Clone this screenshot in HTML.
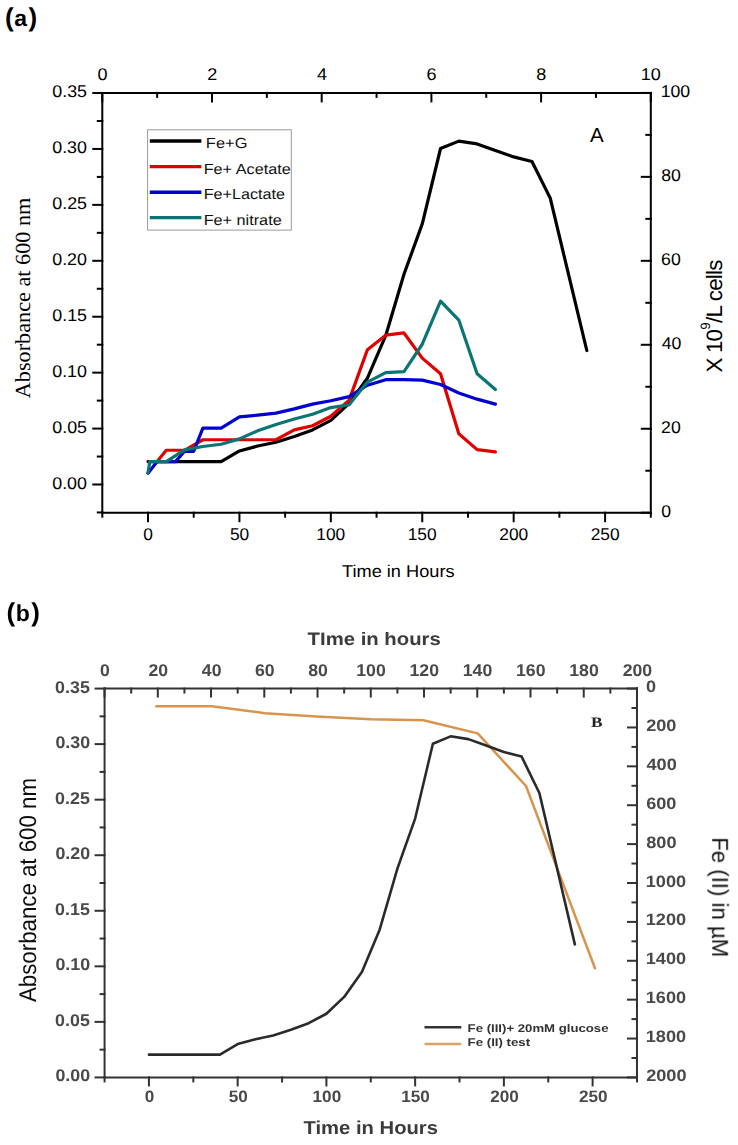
<!DOCTYPE html>
<html><head><meta charset="utf-8"><style>
html,body{margin:0;padding:0;background:#fff;}
body{width:738px;height:1145px;overflow:hidden;font-family:'Liberation Sans',sans-serif;}
svg{display:block;}
</style></head><body>
<svg width="738" height="1145" viewBox="0 0 738 1145" text-rendering="geometricPrecision">
<defs><filter id="blurB" x="0" y="580" width="738" height="565" filterUnits="userSpaceOnUse"><feGaussianBlur stdDeviation="0.65"/></filter></defs>
<rect width="738" height="1145" fill="#fff"/>
<g stroke-linecap="square">
<line x1="102.3" y1="92.9" x2="650.8" y2="92.9" stroke="#000" stroke-width="2"/>
<line x1="102.3" y1="512.7" x2="650.8" y2="512.7" stroke="#000" stroke-width="2"/>
<line x1="102.3" y1="92.9" x2="102.3" y2="512.7" stroke="#000" stroke-width="2"/>
<line x1="650.8" y1="92.9" x2="650.8" y2="512.7" stroke="#000" stroke-width="2"/>
<line x1="93.3" y1="93.03" x2="102.3" y2="93.03" stroke="#000" stroke-width="2"/>
<line x1="97.8" y1="120.99" x2="102.3" y2="120.99" stroke="#000" stroke-width="2"/>
<line x1="93.3" y1="148.95" x2="102.3" y2="148.95" stroke="#000" stroke-width="2"/>
<line x1="97.8" y1="176.91" x2="102.3" y2="176.91" stroke="#000" stroke-width="2"/>
<line x1="93.3" y1="204.88" x2="102.3" y2="204.88" stroke="#000" stroke-width="2"/>
<line x1="97.8" y1="232.84" x2="102.3" y2="232.84" stroke="#000" stroke-width="2"/>
<line x1="93.3" y1="260.8" x2="102.3" y2="260.8" stroke="#000" stroke-width="2"/>
<line x1="97.8" y1="288.76" x2="102.3" y2="288.76" stroke="#000" stroke-width="2"/>
<line x1="93.3" y1="316.73" x2="102.3" y2="316.73" stroke="#000" stroke-width="2"/>
<line x1="97.8" y1="344.69" x2="102.3" y2="344.69" stroke="#000" stroke-width="2"/>
<line x1="93.3" y1="372.65" x2="102.3" y2="372.65" stroke="#000" stroke-width="2"/>
<line x1="97.8" y1="400.61" x2="102.3" y2="400.61" stroke="#000" stroke-width="2"/>
<line x1="93.3" y1="428.58" x2="102.3" y2="428.58" stroke="#000" stroke-width="2"/>
<line x1="97.8" y1="456.54" x2="102.3" y2="456.54" stroke="#000" stroke-width="2"/>
<line x1="93.3" y1="484.5" x2="102.3" y2="484.5" stroke="#000" stroke-width="2"/>
<line x1="97.8" y1="512.46" x2="102.3" y2="512.46" stroke="#000" stroke-width="2"/>
<line x1="641.8" y1="512.7" x2="650.8" y2="512.7" stroke="#000" stroke-width="2"/>
<line x1="646.3" y1="470.72" x2="650.8" y2="470.72" stroke="#000" stroke-width="2"/>
<line x1="641.8" y1="428.74" x2="650.8" y2="428.74" stroke="#000" stroke-width="2"/>
<line x1="646.3" y1="386.76" x2="650.8" y2="386.76" stroke="#000" stroke-width="2"/>
<line x1="641.8" y1="344.78" x2="650.8" y2="344.78" stroke="#000" stroke-width="2"/>
<line x1="646.3" y1="302.8" x2="650.8" y2="302.8" stroke="#000" stroke-width="2"/>
<line x1="641.8" y1="260.82" x2="650.8" y2="260.82" stroke="#000" stroke-width="2"/>
<line x1="646.3" y1="218.84" x2="650.8" y2="218.84" stroke="#000" stroke-width="2"/>
<line x1="641.8" y1="176.86" x2="650.8" y2="176.86" stroke="#000" stroke-width="2"/>
<line x1="646.3" y1="134.88" x2="650.8" y2="134.88" stroke="#000" stroke-width="2"/>
<line x1="641.8" y1="92.9" x2="650.8" y2="92.9" stroke="#000" stroke-width="2"/>
<line x1="102.3" y1="92.9" x2="102.3" y2="101.4" stroke="#000" stroke-width="2"/>
<line x1="157.15" y1="92.9" x2="157.15" y2="96.9" stroke="#000" stroke-width="2"/>
<line x1="212" y1="92.9" x2="212" y2="101.4" stroke="#000" stroke-width="2"/>
<line x1="266.85" y1="92.9" x2="266.85" y2="96.9" stroke="#000" stroke-width="2"/>
<line x1="321.7" y1="92.9" x2="321.7" y2="101.4" stroke="#000" stroke-width="2"/>
<line x1="376.55" y1="92.9" x2="376.55" y2="96.9" stroke="#000" stroke-width="2"/>
<line x1="431.4" y1="92.9" x2="431.4" y2="101.4" stroke="#000" stroke-width="2"/>
<line x1="486.25" y1="92.9" x2="486.25" y2="96.9" stroke="#000" stroke-width="2"/>
<line x1="541.1" y1="92.9" x2="541.1" y2="101.4" stroke="#000" stroke-width="2"/>
<line x1="595.95" y1="92.9" x2="595.95" y2="96.9" stroke="#000" stroke-width="2"/>
<line x1="650.8" y1="92.9" x2="650.8" y2="101.4" stroke="#000" stroke-width="2"/>
<line x1="102.3" y1="512.7" x2="102.3" y2="516.7" stroke="#000" stroke-width="2"/>
<line x1="148.01" y1="512.7" x2="148.01" y2="521.2" stroke="#000" stroke-width="2"/>
<line x1="193.72" y1="512.7" x2="193.72" y2="516.7" stroke="#000" stroke-width="2"/>
<line x1="239.43" y1="512.7" x2="239.43" y2="521.2" stroke="#000" stroke-width="2"/>
<line x1="285.13" y1="512.7" x2="285.13" y2="516.7" stroke="#000" stroke-width="2"/>
<line x1="330.84" y1="512.7" x2="330.84" y2="521.2" stroke="#000" stroke-width="2"/>
<line x1="376.55" y1="512.7" x2="376.55" y2="516.7" stroke="#000" stroke-width="2"/>
<line x1="422.26" y1="512.7" x2="422.26" y2="521.2" stroke="#000" stroke-width="2"/>
<line x1="467.97" y1="512.7" x2="467.97" y2="516.7" stroke="#000" stroke-width="2"/>
<line x1="513.67" y1="512.7" x2="513.67" y2="521.2" stroke="#000" stroke-width="2"/>
<line x1="559.38" y1="512.7" x2="559.38" y2="516.7" stroke="#000" stroke-width="2"/>
<line x1="605.09" y1="512.7" x2="605.09" y2="521.2" stroke="#000" stroke-width="2"/>
<line x1="650.8" y1="512.7" x2="650.8" y2="516.7" stroke="#000" stroke-width="2"/>
</g>
<text x="52.3" y="97.03" font-size="17" text-anchor="start" font-weight="normal" fill="#000" style="font-family:'Liberation Sans',sans-serif" textLength="34.74" lengthAdjust="spacingAndGlyphs">0.35</text>
<text x="52.21" y="152.95" font-size="17" text-anchor="start" font-weight="normal" fill="#000" style="font-family:'Liberation Sans',sans-serif" textLength="34.74" lengthAdjust="spacingAndGlyphs">0.30</text>
<text x="52.3" y="208.88" font-size="17" text-anchor="start" font-weight="normal" fill="#000" style="font-family:'Liberation Sans',sans-serif" textLength="34.74" lengthAdjust="spacingAndGlyphs">0.25</text>
<text x="52.21" y="264.8" font-size="17" text-anchor="start" font-weight="normal" fill="#000" style="font-family:'Liberation Sans',sans-serif" textLength="34.74" lengthAdjust="spacingAndGlyphs">0.20</text>
<text x="52.3" y="320.73" font-size="17" text-anchor="start" font-weight="normal" fill="#000" style="font-family:'Liberation Sans',sans-serif" textLength="34.74" lengthAdjust="spacingAndGlyphs">0.15</text>
<text x="52.21" y="376.65" font-size="17" text-anchor="start" font-weight="normal" fill="#000" style="font-family:'Liberation Sans',sans-serif" textLength="34.74" lengthAdjust="spacingAndGlyphs">0.10</text>
<text x="52.3" y="432.57" font-size="17" text-anchor="start" font-weight="normal" fill="#000" style="font-family:'Liberation Sans',sans-serif" textLength="34.74" lengthAdjust="spacingAndGlyphs">0.05</text>
<text x="52.21" y="488.5" font-size="17" text-anchor="start" font-weight="normal" fill="#000" style="font-family:'Liberation Sans',sans-serif" textLength="34.74" lengthAdjust="spacingAndGlyphs">0.00</text>
<text x="661.29" y="516.5" font-size="17" text-anchor="start" font-weight="normal" fill="#000" style="font-family:'Liberation Sans',sans-serif" textLength="9.83" lengthAdjust="spacingAndGlyphs">0</text>
<text x="661.12" y="432.54" font-size="17" text-anchor="start" font-weight="normal" fill="#000" style="font-family:'Liberation Sans',sans-serif" textLength="19.67" lengthAdjust="spacingAndGlyphs">20</text>
<text x="661.65" y="348.58" font-size="17" text-anchor="start" font-weight="normal" fill="#000" style="font-family:'Liberation Sans',sans-serif" textLength="19.67" lengthAdjust="spacingAndGlyphs">40</text>
<text x="661.12" y="264.62" font-size="17" text-anchor="start" font-weight="normal" fill="#000" style="font-family:'Liberation Sans',sans-serif" textLength="19.67" lengthAdjust="spacingAndGlyphs">60</text>
<text x="661.2" y="180.66" font-size="17" text-anchor="start" font-weight="normal" fill="#000" style="font-family:'Liberation Sans',sans-serif" textLength="19.67" lengthAdjust="spacingAndGlyphs">80</text>
<text x="660.67" y="96.7" font-size="17" text-anchor="start" font-weight="normal" fill="#000" style="font-family:'Liberation Sans',sans-serif" textLength="29.5" lengthAdjust="spacingAndGlyphs">100</text>
<text x="97.55" y="80" font-size="17" text-anchor="start" font-weight="normal" fill="#000" style="font-family:'Liberation Sans',sans-serif" textLength="10.02" lengthAdjust="spacingAndGlyphs">0</text>
<text x="207.3" y="80" font-size="17" text-anchor="start" font-weight="normal" fill="#000" style="font-family:'Liberation Sans',sans-serif" textLength="10.02" lengthAdjust="spacingAndGlyphs">2</text>
<text x="317.09" y="80" font-size="17" text-anchor="start" font-weight="normal" fill="#000" style="font-family:'Liberation Sans',sans-serif" textLength="10.02" lengthAdjust="spacingAndGlyphs">4</text>
<text x="426.61" y="80" font-size="17" text-anchor="start" font-weight="normal" fill="#000" style="font-family:'Liberation Sans',sans-serif" textLength="10.02" lengthAdjust="spacingAndGlyphs">6</text>
<text x="536.35" y="80" font-size="17" text-anchor="start" font-weight="normal" fill="#000" style="font-family:'Liberation Sans',sans-serif" textLength="10.02" lengthAdjust="spacingAndGlyphs">8</text>
<text x="640.74" y="80" font-size="17" text-anchor="start" font-weight="normal" fill="#000" style="font-family:'Liberation Sans',sans-serif" textLength="20.04" lengthAdjust="spacingAndGlyphs">10</text>
<text x="143.35" y="539.7" font-size="17" text-anchor="start" font-weight="normal" fill="#000" style="font-family:'Liberation Sans',sans-serif" textLength="9.64" lengthAdjust="spacingAndGlyphs">0</text>
<text x="229.96" y="539.7" font-size="17" text-anchor="start" font-weight="normal" fill="#000" style="font-family:'Liberation Sans',sans-serif" textLength="19.29" lengthAdjust="spacingAndGlyphs">50</text>
<text x="316.26" y="539.7" font-size="17" text-anchor="start" font-weight="normal" fill="#000" style="font-family:'Liberation Sans',sans-serif" textLength="28.93" lengthAdjust="spacingAndGlyphs">100</text>
<text x="407.68" y="539.7" font-size="17" text-anchor="start" font-weight="normal" fill="#000" style="font-family:'Liberation Sans',sans-serif" textLength="28.93" lengthAdjust="spacingAndGlyphs">150</text>
<text x="499.31" y="539.7" font-size="17" text-anchor="start" font-weight="normal" fill="#000" style="font-family:'Liberation Sans',sans-serif" textLength="28.93" lengthAdjust="spacingAndGlyphs">200</text>
<text x="590.73" y="539.7" font-size="17" text-anchor="start" font-weight="normal" fill="#000" style="font-family:'Liberation Sans',sans-serif" textLength="28.93" lengthAdjust="spacingAndGlyphs">250</text>
<text x="5" y="26" font-size="26" font-weight="bold" fill="#000" style="font-family:'Liberation Sans',sans-serif">(<tspan font-size="23" dx="0.5">a</tspan><tspan dx="1.5">)</tspan></text>
<text x="590" y="142.2" font-size="20.5" text-anchor="start" font-weight="normal" fill="#000" style="font-family:'Liberation Sans',sans-serif">A</text>
<text x="342" y="577" font-size="17" text-anchor="start" font-weight="normal" fill="#000" style="font-family:'Liberation Sans',sans-serif" textLength="112.6" lengthAdjust="spacingAndGlyphs">Time in Hours</text>
<text transform="translate(30,398.2) rotate(-90)" font-size="21.5" fill="#000" style="font-family:'Liberation Serif',serif" textLength="200.5" lengthAdjust="spacingAndGlyphs">Absorbance at 600 nm</text>
<text transform="translate(722,372.6) rotate(-90)" font-size="22.3" fill="#000" style="font-family:'Liberation Sans',sans-serif" textLength="113" lengthAdjust="spacing">X 10<tspan font-size="13.5" dy="-12.3">9</tspan><tspan dy="12.3">/L cells</tspan></text>
<polyline points="148.01,461.57 166.29,461.57 184.57,461.57 202.86,461.57 221.14,461.57 239.43,450.94 257.71,446.02 275.99,442.22 294.27,436.52 312.56,429.92 330.84,420.41 349.12,403.41 367.41,378.24 385.69,335.74 403.98,274.22 422.26,223.89 440.54,148.5 458.82,141.12 477.11,143.92 495.39,150.4 513.67,156.89 531.96,161.48 550.24,198.16 586.81,350.5" fill="none" stroke="#000" stroke-width="3.2" stroke-linejoin="round" stroke-linecap="round"/>
<polyline points="157.15,461.57 166.29,450.27 184.57,450.27 202.86,439.76 221.14,439.76 239.43,439.76 257.71,439.76 275.99,439.76 294.27,429.92 312.56,425.78 330.84,416.27 349.12,400.17 367.41,349.72 385.69,335.18 403.98,332.94 422.26,358.11 440.54,373.77 458.82,433.83 477.11,449.6 495.39,451.95" fill="none" stroke="#e00000" stroke-width="3.2" stroke-linejoin="round" stroke-linecap="round"/>
<polyline points="148.01,473.2 157.15,461.57 175.43,461.57 184.57,451.28 193.72,451.28 202.86,428.13 221.14,428.13 239.43,416.94 257.71,415.15 275.99,413.14 294.27,408.89 312.56,404.08 330.84,400.72 349.12,396.59 367.41,385.18 385.69,379.7 403.98,379.7 422.26,380.14 440.54,384.51 458.82,393.01 477.11,399.16 495.39,404.08" fill="none" stroke="#0000d0" stroke-width="3.2" stroke-linejoin="round" stroke-linecap="round"/>
<polyline points="148.01,472.76 149.84,461.57 166.29,461.57 184.57,449.83 202.86,446.47 221.14,444.23 239.43,438.87 257.71,430.81 275.99,424.44 294.27,418.96 312.56,414.26 330.84,407.55 349.12,404.75 367.41,382.05 385.69,372.65 403.98,371.53 422.26,344.24 440.54,301.07 458.82,320.08 477.11,373.77 495.39,389.43" fill="none" stroke="#0b7575" stroke-width="3.2" stroke-linejoin="round" stroke-linecap="round"/>
<rect x="147.6" y="129.8" width="143.7" height="100.3" fill="#fff" stroke="#999" stroke-width="1"/>
<line x1="149.8" y1="141" x2="201.4" y2="141" stroke="#000" stroke-width="3.4"/>
<text x="205.89" y="148.1" font-size="14.6" text-anchor="start" font-weight="normal" fill="#111" style="font-family:'Liberation Sans',sans-serif" textLength="41.53" lengthAdjust="spacingAndGlyphs">Fe+G</text>
<line x1="149.8" y1="166.6" x2="201.4" y2="166.6" stroke="#e00000" stroke-width="3.4"/>
<text x="203.7" y="173.5" font-size="14.6" text-anchor="start" font-weight="normal" fill="#111" style="font-family:'Liberation Sans',sans-serif" textLength="87.03" lengthAdjust="spacingAndGlyphs">Fe+ Acetate</text>
<line x1="149.8" y1="192.2" x2="201.4" y2="192.2" stroke="#0000d0" stroke-width="3.4"/>
<text x="203.71" y="199" font-size="14.6" text-anchor="start" font-weight="normal" fill="#111" style="font-family:'Liberation Sans',sans-serif" textLength="81.24" lengthAdjust="spacingAndGlyphs">Fe+Lactate</text>
<line x1="149.8" y1="217.6" x2="201.4" y2="217.6" stroke="#0b7575" stroke-width="3.4"/>
<text x="203.7" y="224.5" font-size="14.6" text-anchor="start" font-weight="normal" fill="#111" style="font-family:'Liberation Sans',sans-serif" textLength="77.98" lengthAdjust="spacingAndGlyphs">Fe+ nitrate</text>
<g filter="url(#blurB)">
<g stroke-linecap="square">
<line x1="104.57" y1="688.57" x2="636.98" y2="688.57" stroke="#333" stroke-width="2"/>
<line x1="104.57" y1="1077.43" x2="636.98" y2="1077.43" stroke="#333" stroke-width="2"/>
<line x1="104.57" y1="688.57" x2="104.57" y2="1077.43" stroke="#333" stroke-width="2"/>
<line x1="636.98" y1="688.57" x2="636.98" y2="1077.43" stroke="#333" stroke-width="2"/>
<line x1="95.57" y1="688.57" x2="104.57" y2="688.57" stroke="#333" stroke-width="2"/>
<line x1="100.57" y1="716.35" x2="104.57" y2="716.35" stroke="#333" stroke-width="2"/>
<line x1="95.57" y1="744.12" x2="104.57" y2="744.12" stroke="#333" stroke-width="2"/>
<line x1="100.57" y1="771.9" x2="104.57" y2="771.9" stroke="#333" stroke-width="2"/>
<line x1="95.57" y1="799.67" x2="104.57" y2="799.67" stroke="#333" stroke-width="2"/>
<line x1="100.57" y1="827.45" x2="104.57" y2="827.45" stroke="#333" stroke-width="2"/>
<line x1="95.57" y1="855.22" x2="104.57" y2="855.22" stroke="#333" stroke-width="2"/>
<line x1="100.57" y1="883" x2="104.57" y2="883" stroke="#333" stroke-width="2"/>
<line x1="95.57" y1="910.78" x2="104.57" y2="910.78" stroke="#333" stroke-width="2"/>
<line x1="100.57" y1="938.55" x2="104.57" y2="938.55" stroke="#333" stroke-width="2"/>
<line x1="95.57" y1="966.33" x2="104.57" y2="966.33" stroke="#333" stroke-width="2"/>
<line x1="100.57" y1="994.1" x2="104.57" y2="994.1" stroke="#333" stroke-width="2"/>
<line x1="95.57" y1="1021.88" x2="104.57" y2="1021.88" stroke="#333" stroke-width="2"/>
<line x1="100.57" y1="1049.65" x2="104.57" y2="1049.65" stroke="#333" stroke-width="2"/>
<line x1="95.57" y1="1077.43" x2="104.57" y2="1077.43" stroke="#333" stroke-width="2"/>
<line x1="627.98" y1="688.57" x2="636.98" y2="688.57" stroke="#333" stroke-width="2"/>
<line x1="632.48" y1="708.01" x2="636.98" y2="708.01" stroke="#333" stroke-width="2"/>
<line x1="627.98" y1="727.46" x2="636.98" y2="727.46" stroke="#333" stroke-width="2"/>
<line x1="632.48" y1="746.9" x2="636.98" y2="746.9" stroke="#333" stroke-width="2"/>
<line x1="627.98" y1="766.34" x2="636.98" y2="766.34" stroke="#333" stroke-width="2"/>
<line x1="632.48" y1="785.79" x2="636.98" y2="785.79" stroke="#333" stroke-width="2"/>
<line x1="627.98" y1="805.23" x2="636.98" y2="805.23" stroke="#333" stroke-width="2"/>
<line x1="632.48" y1="824.67" x2="636.98" y2="824.67" stroke="#333" stroke-width="2"/>
<line x1="627.98" y1="844.11" x2="636.98" y2="844.11" stroke="#333" stroke-width="2"/>
<line x1="632.48" y1="863.56" x2="636.98" y2="863.56" stroke="#333" stroke-width="2"/>
<line x1="627.98" y1="883" x2="636.98" y2="883" stroke="#333" stroke-width="2"/>
<line x1="632.48" y1="902.44" x2="636.98" y2="902.44" stroke="#333" stroke-width="2"/>
<line x1="627.98" y1="921.89" x2="636.98" y2="921.89" stroke="#333" stroke-width="2"/>
<line x1="632.48" y1="941.33" x2="636.98" y2="941.33" stroke="#333" stroke-width="2"/>
<line x1="627.98" y1="960.77" x2="636.98" y2="960.77" stroke="#333" stroke-width="2"/>
<line x1="632.48" y1="980.22" x2="636.98" y2="980.22" stroke="#333" stroke-width="2"/>
<line x1="627.98" y1="999.66" x2="636.98" y2="999.66" stroke="#333" stroke-width="2"/>
<line x1="632.48" y1="1019.1" x2="636.98" y2="1019.1" stroke="#333" stroke-width="2"/>
<line x1="627.98" y1="1038.54" x2="636.98" y2="1038.54" stroke="#333" stroke-width="2"/>
<line x1="632.48" y1="1057.99" x2="636.98" y2="1057.99" stroke="#333" stroke-width="2"/>
<line x1="627.98" y1="1077.43" x2="636.98" y2="1077.43" stroke="#333" stroke-width="2"/>
<line x1="104.57" y1="688.57" x2="104.57" y2="696.57" stroke="#333" stroke-width="2"/>
<line x1="131.19" y1="688.57" x2="131.19" y2="692.57" stroke="#333" stroke-width="2"/>
<line x1="157.81" y1="688.57" x2="157.81" y2="696.57" stroke="#333" stroke-width="2"/>
<line x1="184.43" y1="688.57" x2="184.43" y2="692.57" stroke="#333" stroke-width="2"/>
<line x1="211.05" y1="688.57" x2="211.05" y2="696.57" stroke="#333" stroke-width="2"/>
<line x1="237.67" y1="688.57" x2="237.67" y2="692.57" stroke="#333" stroke-width="2"/>
<line x1="264.29" y1="688.57" x2="264.29" y2="696.57" stroke="#333" stroke-width="2"/>
<line x1="290.91" y1="688.57" x2="290.91" y2="692.57" stroke="#333" stroke-width="2"/>
<line x1="317.53" y1="688.57" x2="317.53" y2="696.57" stroke="#333" stroke-width="2"/>
<line x1="344.15" y1="688.57" x2="344.15" y2="692.57" stroke="#333" stroke-width="2"/>
<line x1="370.78" y1="688.57" x2="370.78" y2="696.57" stroke="#333" stroke-width="2"/>
<line x1="397.4" y1="688.57" x2="397.4" y2="692.57" stroke="#333" stroke-width="2"/>
<line x1="424.02" y1="688.57" x2="424.02" y2="696.57" stroke="#333" stroke-width="2"/>
<line x1="450.64" y1="688.57" x2="450.64" y2="692.57" stroke="#333" stroke-width="2"/>
<line x1="477.26" y1="688.57" x2="477.26" y2="696.57" stroke="#333" stroke-width="2"/>
<line x1="503.88" y1="688.57" x2="503.88" y2="692.57" stroke="#333" stroke-width="2"/>
<line x1="530.5" y1="688.57" x2="530.5" y2="696.57" stroke="#333" stroke-width="2"/>
<line x1="557.12" y1="688.57" x2="557.12" y2="692.57" stroke="#333" stroke-width="2"/>
<line x1="583.74" y1="688.57" x2="583.74" y2="696.57" stroke="#333" stroke-width="2"/>
<line x1="610.36" y1="688.57" x2="610.36" y2="692.57" stroke="#333" stroke-width="2"/>
<line x1="636.98" y1="688.57" x2="636.98" y2="696.57" stroke="#333" stroke-width="2"/>
<line x1="104.57" y1="1077.43" x2="104.57" y2="1081.43" stroke="#333" stroke-width="2"/>
<line x1="148.94" y1="1077.43" x2="148.94" y2="1085.43" stroke="#333" stroke-width="2"/>
<line x1="193.31" y1="1077.43" x2="193.31" y2="1081.43" stroke="#333" stroke-width="2"/>
<line x1="237.67" y1="1077.43" x2="237.67" y2="1085.43" stroke="#333" stroke-width="2"/>
<line x1="282.04" y1="1077.43" x2="282.04" y2="1081.43" stroke="#333" stroke-width="2"/>
<line x1="326.41" y1="1077.43" x2="326.41" y2="1085.43" stroke="#333" stroke-width="2"/>
<line x1="370.78" y1="1077.43" x2="370.78" y2="1081.43" stroke="#333" stroke-width="2"/>
<line x1="415.14" y1="1077.43" x2="415.14" y2="1085.43" stroke="#333" stroke-width="2"/>
<line x1="459.51" y1="1077.43" x2="459.51" y2="1081.43" stroke="#333" stroke-width="2"/>
<line x1="503.88" y1="1077.43" x2="503.88" y2="1085.43" stroke="#333" stroke-width="2"/>
<line x1="548.25" y1="1077.43" x2="548.25" y2="1081.43" stroke="#333" stroke-width="2"/>
<line x1="592.61" y1="1077.43" x2="592.61" y2="1085.43" stroke="#333" stroke-width="2"/>
<line x1="636.98" y1="1077.43" x2="636.98" y2="1081.43" stroke="#333" stroke-width="2"/>
</g>
<text x="55.13" y="692.57" font-size="17" text-anchor="start" font-weight="bold" fill="#4a4a4a" style="font-family:'Liberation Sans',sans-serif" textLength="34.74" lengthAdjust="spacingAndGlyphs">0.35</text>
<text x="55.4" y="748.12" font-size="17" text-anchor="start" font-weight="bold" fill="#4a4a4a" style="font-family:'Liberation Sans',sans-serif" textLength="34.74" lengthAdjust="spacingAndGlyphs">0.30</text>
<text x="55.13" y="803.67" font-size="17" text-anchor="start" font-weight="bold" fill="#4a4a4a" style="font-family:'Liberation Sans',sans-serif" textLength="34.74" lengthAdjust="spacingAndGlyphs">0.25</text>
<text x="55.4" y="859.22" font-size="17" text-anchor="start" font-weight="bold" fill="#4a4a4a" style="font-family:'Liberation Sans',sans-serif" textLength="34.74" lengthAdjust="spacingAndGlyphs">0.20</text>
<text x="55.13" y="914.78" font-size="17" text-anchor="start" font-weight="bold" fill="#4a4a4a" style="font-family:'Liberation Sans',sans-serif" textLength="34.74" lengthAdjust="spacingAndGlyphs">0.15</text>
<text x="55.4" y="970.33" font-size="17" text-anchor="start" font-weight="bold" fill="#4a4a4a" style="font-family:'Liberation Sans',sans-serif" textLength="34.74" lengthAdjust="spacingAndGlyphs">0.10</text>
<text x="55.13" y="1025.88" font-size="17" text-anchor="start" font-weight="bold" fill="#4a4a4a" style="font-family:'Liberation Sans',sans-serif" textLength="34.74" lengthAdjust="spacingAndGlyphs">0.05</text>
<text x="55.4" y="1081.43" font-size="17" text-anchor="start" font-weight="bold" fill="#4a4a4a" style="font-family:'Liberation Sans',sans-serif" textLength="34.74" lengthAdjust="spacingAndGlyphs">0.00</text>
<text x="646.07" y="692.17" font-size="16.5" text-anchor="start" font-weight="bold" fill="#4a4a4a" style="font-family:'Liberation Sans',sans-serif" textLength="10.09" lengthAdjust="spacingAndGlyphs">0</text>
<text x="646.16" y="731.06" font-size="16.5" text-anchor="start" font-weight="bold" fill="#4a4a4a" style="font-family:'Liberation Sans',sans-serif" textLength="30.28" lengthAdjust="spacingAndGlyphs">200</text>
<text x="646.53" y="769.94" font-size="16.5" text-anchor="start" font-weight="bold" fill="#4a4a4a" style="font-family:'Liberation Sans',sans-serif" textLength="30.28" lengthAdjust="spacingAndGlyphs">400</text>
<text x="646.16" y="808.83" font-size="16.5" text-anchor="start" font-weight="bold" fill="#4a4a4a" style="font-family:'Liberation Sans',sans-serif" textLength="30.28" lengthAdjust="spacingAndGlyphs">600</text>
<text x="646.26" y="847.71" font-size="16.5" text-anchor="start" font-weight="bold" fill="#4a4a4a" style="font-family:'Liberation Sans',sans-serif" textLength="30.28" lengthAdjust="spacingAndGlyphs">800</text>
<text x="645.71" y="886.6" font-size="16.5" text-anchor="start" font-weight="bold" fill="#4a4a4a" style="font-family:'Liberation Sans',sans-serif" textLength="40.38" lengthAdjust="spacingAndGlyphs">1000</text>
<text x="645.71" y="925.49" font-size="16.5" text-anchor="start" font-weight="bold" fill="#4a4a4a" style="font-family:'Liberation Sans',sans-serif" textLength="40.38" lengthAdjust="spacingAndGlyphs">1200</text>
<text x="645.71" y="964.37" font-size="16.5" text-anchor="start" font-weight="bold" fill="#4a4a4a" style="font-family:'Liberation Sans',sans-serif" textLength="40.38" lengthAdjust="spacingAndGlyphs">1400</text>
<text x="645.71" y="1003.26" font-size="16.5" text-anchor="start" font-weight="bold" fill="#4a4a4a" style="font-family:'Liberation Sans',sans-serif" textLength="40.38" lengthAdjust="spacingAndGlyphs">1600</text>
<text x="645.71" y="1042.14" font-size="16.5" text-anchor="start" font-weight="bold" fill="#4a4a4a" style="font-family:'Liberation Sans',sans-serif" textLength="40.38" lengthAdjust="spacingAndGlyphs">1800</text>
<text x="646.16" y="1081.03" font-size="16.5" text-anchor="start" font-weight="bold" fill="#4a4a4a" style="font-family:'Liberation Sans',sans-serif" textLength="40.38" lengthAdjust="spacingAndGlyphs">2000</text>
<text x="100.06" y="676.3" font-size="17" text-anchor="start" font-weight="bold" fill="#4a4a4a" style="font-family:'Liberation Sans',sans-serif" textLength="9.83" lengthAdjust="spacingAndGlyphs">0</text>
<text x="148.44" y="676.3" font-size="17" text-anchor="start" font-weight="bold" fill="#4a4a4a" style="font-family:'Liberation Sans',sans-serif" textLength="19.67" lengthAdjust="spacingAndGlyphs">20</text>
<text x="201.86" y="676.3" font-size="17" text-anchor="start" font-weight="bold" fill="#4a4a4a" style="font-family:'Liberation Sans',sans-serif" textLength="19.67" lengthAdjust="spacingAndGlyphs">40</text>
<text x="254.92" y="676.3" font-size="17" text-anchor="start" font-weight="bold" fill="#4a4a4a" style="font-family:'Liberation Sans',sans-serif" textLength="19.67" lengthAdjust="spacingAndGlyphs">60</text>
<text x="308.21" y="676.3" font-size="17" text-anchor="start" font-weight="bold" fill="#4a4a4a" style="font-family:'Liberation Sans',sans-serif" textLength="19.67" lengthAdjust="spacingAndGlyphs">80</text>
<text x="356.28" y="676.3" font-size="17" text-anchor="start" font-weight="bold" fill="#4a4a4a" style="font-family:'Liberation Sans',sans-serif" textLength="29.5" lengthAdjust="spacingAndGlyphs">100</text>
<text x="409.52" y="676.3" font-size="17" text-anchor="start" font-weight="bold" fill="#4a4a4a" style="font-family:'Liberation Sans',sans-serif" textLength="29.5" lengthAdjust="spacingAndGlyphs">120</text>
<text x="462.76" y="676.3" font-size="17" text-anchor="start" font-weight="bold" fill="#4a4a4a" style="font-family:'Liberation Sans',sans-serif" textLength="29.5" lengthAdjust="spacingAndGlyphs">140</text>
<text x="516" y="676.3" font-size="17" text-anchor="start" font-weight="bold" fill="#4a4a4a" style="font-family:'Liberation Sans',sans-serif" textLength="29.5" lengthAdjust="spacingAndGlyphs">160</text>
<text x="569.24" y="676.3" font-size="17" text-anchor="start" font-weight="bold" fill="#4a4a4a" style="font-family:'Liberation Sans',sans-serif" textLength="29.5" lengthAdjust="spacingAndGlyphs">180</text>
<text x="622.71" y="676.3" font-size="17" text-anchor="start" font-weight="bold" fill="#4a4a4a" style="font-family:'Liberation Sans',sans-serif" textLength="29.5" lengthAdjust="spacingAndGlyphs">200</text>
<text x="144.78" y="1102.4" font-size="16.5" text-anchor="start" font-weight="bold" fill="#4a4a4a" style="font-family:'Liberation Sans',sans-serif" textLength="9.54" lengthAdjust="spacingAndGlyphs">0</text>
<text x="228.83" y="1102.4" font-size="16.5" text-anchor="start" font-weight="bold" fill="#4a4a4a" style="font-family:'Liberation Sans',sans-serif" textLength="19.09" lengthAdjust="spacingAndGlyphs">50</text>
<text x="312.55" y="1102.4" font-size="16.5" text-anchor="start" font-weight="bold" fill="#4a4a4a" style="font-family:'Liberation Sans',sans-serif" textLength="28.63" lengthAdjust="spacingAndGlyphs">100</text>
<text x="401.29" y="1102.4" font-size="16.5" text-anchor="start" font-weight="bold" fill="#4a4a4a" style="font-family:'Liberation Sans',sans-serif" textLength="28.63" lengthAdjust="spacingAndGlyphs">150</text>
<text x="490.23" y="1102.4" font-size="16.5" text-anchor="start" font-weight="bold" fill="#4a4a4a" style="font-family:'Liberation Sans',sans-serif" textLength="28.63" lengthAdjust="spacingAndGlyphs">200</text>
<text x="578.97" y="1102.4" font-size="16.5" text-anchor="start" font-weight="bold" fill="#4a4a4a" style="font-family:'Liberation Sans',sans-serif" textLength="28.63" lengthAdjust="spacingAndGlyphs">250</text>
<text x="6.5" y="621" font-size="26" font-weight="bold" fill="#000" style="font-family:'Liberation Sans',sans-serif">(<tspan font-size="23" dx="0.5">b</tspan><tspan dx="1.5">)</tspan></text>
<text x="307.6" y="645.3" font-size="18" text-anchor="start" font-weight="bold" fill="#3a3a3a" style="font-family:'Liberation Sans',sans-serif" textLength="133.14" lengthAdjust="spacingAndGlyphs">TIme in hours</text>
<text x="303.5" y="1133.6" font-size="18.7" text-anchor="start" font-weight="bold" fill="#3a3a3a" style="font-family:'Liberation Sans',sans-serif" textLength="134.5" lengthAdjust="spacingAndGlyphs">Time in Hours</text>
<text transform="translate(36.2,1002) rotate(-90)" font-size="24" fill="#111" style="font-family:'Liberation Sans',sans-serif" textLength="224" lengthAdjust="spacingAndGlyphs">Absorbance at 600 nm</text>
<text transform="translate(712.2,837.3) rotate(90)" font-size="23" fill="#111" style="font-family:'Liberation Sans',sans-serif" textLength="120" lengthAdjust="spacingAndGlyphs">Fe (II) in µM</text>
<text x="591.14" y="726.8" font-size="14.5" text-anchor="start" font-weight="bold" fill="#222" style="font-family:'Liberation Serif',serif" textLength="11.53" lengthAdjust="spacingAndGlyphs">B</text>
<line x1="424.5" y1="1027.3" x2="461.3" y2="1027.3" stroke="#333" stroke-width="2.6"/>
<line x1="424.5" y1="1044" x2="461.3" y2="1044" stroke="#dfa068" stroke-width="2.6"/>
<text x="467.64" y="1032" font-size="11.2" text-anchor="start" font-weight="bold" fill="#333" style="font-family:'Liberation Sans',sans-serif" textLength="140.85" lengthAdjust="spacingAndGlyphs">Fe (III)+ 20mM glucose</text>
<text x="467.64" y="1046" font-size="11.2" text-anchor="start" font-weight="bold" fill="#333" style="font-family:'Liberation Sans',sans-serif" textLength="62.53" lengthAdjust="spacingAndGlyphs">Fe (II) test</text>
<polyline points="156.3,706.3 211.8,706.3 264.9,713.2 316.4,716.6 370.6,719.3 423.4,720.2 477.7,733.4 526,786 595,968.3" fill="none" stroke="#d8934f" stroke-width="2.5" stroke-linejoin="round" stroke-linecap="round"/>
<polyline points="148.94,1054.65 166.68,1054.65 184.43,1054.65 202.18,1054.65 219.93,1054.65 237.67,1044.1 255.42,1039.21 273.17,1035.43 290.91,1029.77 308.66,1023.21 326.41,1013.77 344.15,996.88 361.9,971.88 379.65,929.66 397.4,868.56 415.14,818.56 432.89,743.68 450.64,736.34 468.38,739.12 486.13,745.57 503.88,752.01 521.62,756.56 539.37,793.01 574.87,944.33" fill="none" stroke="#2b2b2b" stroke-width="2.6" stroke-linejoin="round" stroke-linecap="round"/>
</g>
</svg>
</body></html>
